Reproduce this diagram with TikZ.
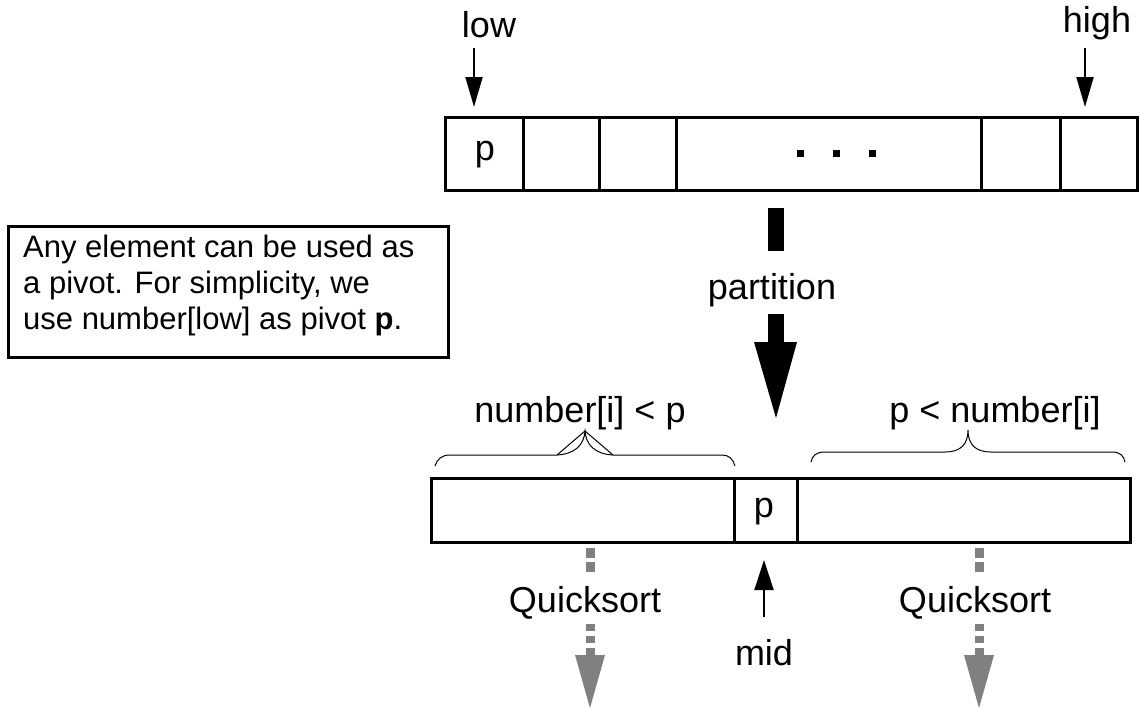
\documentclass[tikz,border=0pt]{standalone}
\usepackage{fontspec}
\setmainfont{Liberation Sans}
\usetikzlibrary{arrows.meta}
\definecolor{qgray}{RGB}{128,128,128}
\begin{document}
\begin{tikzpicture}[x=1pt,y=-1pt,
  lbl/.style={font=\fontsize{36}{43}\selectfont, inner sep=0pt, anchor=base},
  notetext/.style={font=\fontsize{31}{36}\selectfont, inner sep=0pt, anchor=base west},
  cell/.style={draw, line width=3pt, inner sep=0pt, outer sep=0pt, anchor=north west},
  ptr/.style={line width=2pt, -{Triangle[length=30pt,width=17pt]}},
  brace/.style={line width=1pt},
  qdash/.style={draw=qgray, line width=9pt},
  qhead/.style={fill=qgray},
  bigarrow/.style={fill=black}]
\useasboundingbox (0,0) rectangle (1140,709);

% top array
\node[cell, minimum width=78pt, minimum height=73pt] (t1) at (445,117) {};
\node[cell, minimum width=76pt, minimum height=73pt] (t2) at (523,117) {};
\node[cell, minimum width=77pt, minimum height=73pt] (t3) at (599,117) {};
\node[cell, minimum width=305pt, minimum height=73pt] (t4) at (676,117) {};
\node[cell, minimum width=79pt, minimum height=73pt] (t5) at (981,117) {};
\node[cell, minimum width=77pt, minimum height=73pt] (t6) at (1060,117) {};
\node[lbl] (tp) at (485,160) {p};
\fill (796.5,149.5) rectangle ++(7,7);
\fill (832.5,149.5) rectangle ++(7,7);
\fill (868.5,149.5) rectangle ++(7,7);

% low / high pointers
\node[lbl] (low) at (489,38) {low};
\node[lbl] (high) at (1097,33) {high};
\coordinate (lowtail) at (474,48);
\coordinate (lowtip) at (474,107);
\coordinate (hightail) at (1085,48);
\coordinate (hightip) at (1085,107);
\draw[ptr] (lowtail) -- (lowtip);
\draw[ptr] (hightail) -- (hightip);

% note box
\node[draw, line width=2.5pt, inner sep=0pt, anchor=north west, minimum width=440pt, minimum height=131pt] (note) at (7,225) {};
\node[notetext] (n1) at (23,257) {Any element can be used as};
\node[notetext] (n2) at (23,293) {a pivot. For simplicity, we};
\node[notetext] (n3) at (23,329) {use number[low] as pivot \textbf{p}.};

% partition arrow
\fill[bigarrow] (768,208) rectangle (784,251);
\node[lbl] (part) at (772,299) {partition};
\fill[bigarrow] (768,314) rectangle (784,342);
\fill[bigarrow] (754,342) -- (797,342) -- (776,418) -- cycle;

% bottom array
\node[cell, minimum width=303pt, minimum height=64pt] (b1) at (431,478) {};
\node[cell, minimum width=63pt, minimum height=64pt] (b2) at (734,478) {};
\node[cell, minimum width=333pt, minimum height=64pt] (b3) at (797,478) {};
\node[lbl] (bp) at (764,517) {p};

% braces
\node[lbl] (lt) at (580,422) {number[i] < p};
\node[lbl] (gt) at (995,422) {p < number[i]};
\draw[brace] (435,466) .. controls (437,459) and (442,455) .. (450,455) -- (557,455)
  .. controls (575,454) and (584,445) .. (585,431)
  .. controls (586,445) and (595,454) .. (613,455) -- (722,455)
  .. controls (729,455) and (733,459) .. (735,466);
\draw[brace] (557,455) -- (585,431) -- (613,455);
\draw[brace] (811,462) .. controls (812,456) and (816,452) .. (825,452) -- (945,452)
  .. controls (960,452) and (968,445) .. (968,430)
  .. controls (968,445) and (976,452) .. (991,452) -- (1112,452)
  .. controls (1120,452) and (1124,456) .. (1125,462);

% mid pointer
\node[lbl] (mid) at (764,665) {mid};
\coordinate (midtail) at (764,617);
\coordinate (midtip) at (764,560);
\draw[line width=2pt, -{Triangle[length=30pt,width=19pt]}] (midtail) -- (midtip);

% quicksort arrows
\node[lbl] (qs1) at (585,612) {Quicksort};
\node[lbl] (qs2) at (975,612) {Quicksort};
\draw[qdash, dash pattern=on 10pt off 4pt] (590,548) -- (590,572);
\draw[qdash, dash pattern=on 7pt off 5pt] (590,624) -- (590,656);
\fill[qhead] (575,655) -- (605,655) -- (590,708) -- cycle;
\draw[qdash, dash pattern=on 10pt off 4pt] (979,548) -- (979,572);
\draw[qdash, dash pattern=on 7pt off 5pt] (979,624) -- (979,656);
\fill[qhead] (964,655) -- (994,655) -- (979,708) -- cycle;
\end{tikzpicture}
\end{document}
